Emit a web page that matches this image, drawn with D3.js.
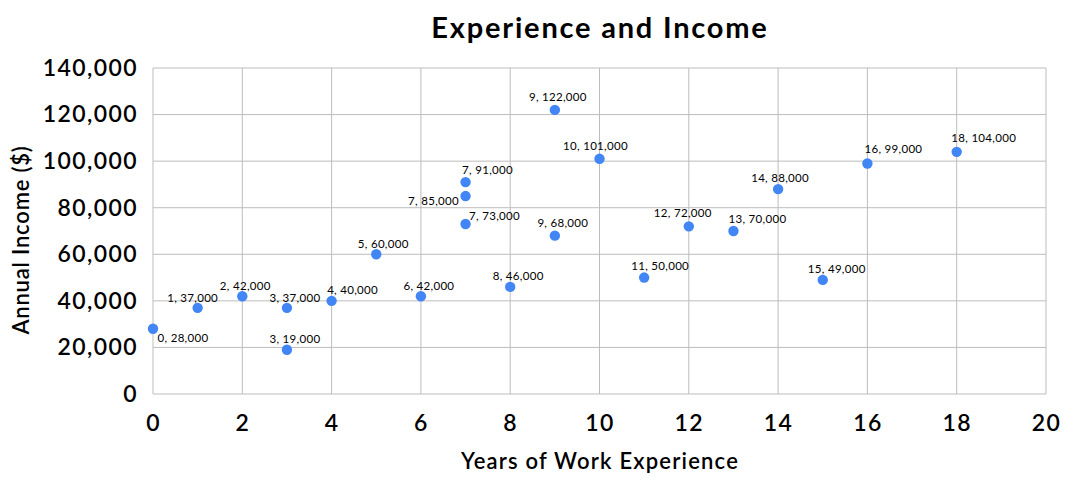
<!DOCTYPE html>
<html>
<head>
<meta charset="utf-8">
<title>Experience and Income</title>
<script src="https://d3js.org/d3.v7.min.js"></script>
<style>
  body { margin: 0; background: #fff; }
  text { font-family: Lato, "Open Sans", sans-serif; fill: #000; }
  .grid line { stroke: #bdbdbd; stroke-width: 1; }
  .tick-label { font-size: 23px; font-weight: 600; letter-spacing: 1.4px; }
  .pt-label { font-size: 11.5px; letter-spacing: 0.3px; }
</style>
</head>
<body>
<svg id="chart" width="1078" height="490"></svg>
<script>
// data
const years  = [0, 1, 2, 3, 3, 4, 5, 6, 7, 7, 7, 8, 9, 9, 10, 11, 12, 13, 14, 15, 16, 18];
const income = [28000, 37000, 42000, 37000, 19000, 40000, 60000, 42000, 91000, 85000, 73000,
                46000, 122000, 68000, 101000, 50000, 72000, 70000, 88000, 49000, 99000, 104000];
const xTicks = [0, 2, 4, 6, 8, 10, 12, 14, 16, 18, 20];
const yTicks = [0, 20000, 40000, 60000, 80000, 100000, 120000, 140000];

// where each data label sits relative to its dot (layout only)
const labelDx = [30, -5, 3, 8, 8, 21, 7, 8, 22, -32, 29, 8, 3, 8, -4, 16, -6, 24, 2, 14, 26, 27];
const labelDy = [13, -6, -6, -6, -7, -7, -6, -6, -8, 9, -4, -7, -9, -9, -9, -8, -9, -8, -7, -7, -10, -10];

const svg = d3.select('#chart');
const margin = {top: 68, right: 32, bottom: 96, left: 153};
const W = 1078, H = 490;

const x = d3.scaleLinear().domain([0, 20]).range([margin.left, W - margin.right]);
const y = d3.scaleLinear().domain([0, 140000]).range([H - margin.bottom, margin.top]);

const fmt = d3.format(',');

// gridlines
const grid = svg.append('g').attr('class', 'grid');
grid.selectAll('.v').data(xTicks).join('line')
  .attr('x1', d => x(d)).attr('x2', d => x(d))
  .attr('y1', y(0)).attr('y2', y(140000));
grid.selectAll('.h').data(yTicks).join('line')
  .attr('class', 'h')
  .attr('x1', x(0)).attr('x2', x(20))
  .attr('y1', d => y(d)).attr('y2', d => y(d));

// axes (labels only, lines come from the grid)
const xAxis = svg.append('g')
  .attr('transform', `translate(0,${y(0)})`)
  .call(d3.axisBottom(x).tickValues(xTicks).tickSize(0).tickPadding(21).tickFormat(d => d));
const yAxis = svg.append('g')
  .attr('transform', `translate(${x(0)},0)`)
  .call(d3.axisLeft(y).tickValues(yTicks).tickSize(0).tickPadding(15).tickFormat(fmt));
[xAxis, yAxis].forEach(a => {
  a.select('.domain').remove();
  a.selectAll('text').attr('class', 'tick-label').attr('fill', '#000')
    .style('font-family', 'Lato, sans-serif');
});

// points
const pts = years.map((d, i) => ({yr: d, inc: income[i], i: i}));

svg.append('g').selectAll('circle')
  .data(pts)
  .join('circle')
  .attr('cx', d => x(d.yr))
  .attr('cy', d => y(d.inc))
  .attr('r', 5.2)
  .attr('fill', '#4285f4');

svg.append('g').selectAll('text')
  .data(pts)
  .join('text')
  .attr('class', 'pt-label')
  .attr('x', d => x(d.yr) + labelDx[d.i])
  .attr('y', d => y(d.inc) + labelDy[d.i])
  .attr('text-anchor', 'middle')
  .text(d => d.yr + ', ' + fmt(d.inc));

// titles
svg.append('text')
  .attr('x', 600).attr('y', 38)
  .attr('text-anchor', 'middle')
  .style('font-size', '29px').style('font-weight', 'bold').style('letter-spacing', '1.8px')
  .text('Experience and Income');

svg.append('text')
  .attr('x', 600).attr('y', 469)
  .attr('text-anchor', 'middle')
  .style('font-size', '22px').style('font-weight', 600).style('letter-spacing', '1.2px')
  .text('Years of Work Experience');

svg.append('text')
  .attr('transform', 'translate(29,' + 240 + ') rotate(-90)')
  .attr('text-anchor', 'middle')
  .style('font-size', '22px').style('font-weight', 600).style('letter-spacing', '0.8px')
  .text('Annual Income ($)');
</script>
</body>
</html>
